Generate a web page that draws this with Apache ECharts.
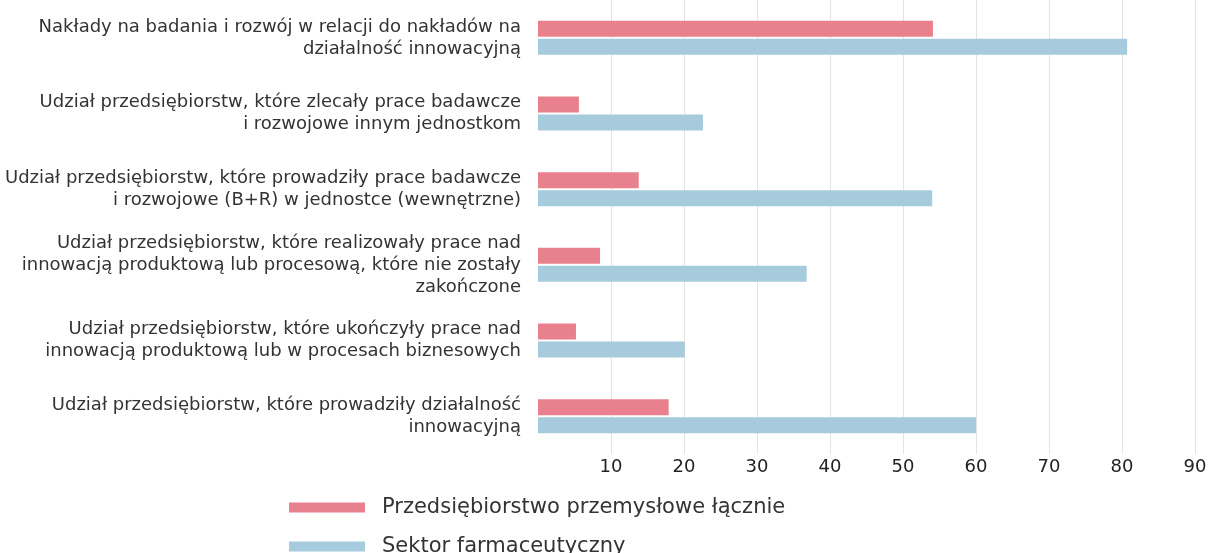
<!DOCTYPE html>
<html>
<head>
<meta charset="utf-8">
<script src="https://cdn.jsdelivr.net/npm/echarts@6/dist/echarts.min.js"></script>
<style>
  html, body { margin: 0; padding: 0; background: #fff; }
  #chart { width: 1211px; height: 553px; }
</style>
</head>
<body>
<div id="chart"></div>
<script>
// kategorie (od góry do dołu)
var categories = [
    'Nakłady na badania i rozwój w relacji do nakładów na\ndziałalność innowacyjną',
    'Udział przedsiębiorstw, które zlecały prace badawcze\ni rozwojowe innym jednostkom',
    'Udział przedsiębiorstw, które prowadziły prace badawcze\ni rozwojowe (B+R) w jednostce (wewnętrzne)',
    'Udział przedsiębiorstw, które realizowały prace nad\ninnowacją produktową lub procesową, które nie zostały\nzakończone',
    'Udział przedsiębiorstw, które ukończyły prace nad\ninnowacją produktową lub w procesach biznesowych',
    'Udział przedsiębiorstw, które prowadziły działalność\ninnowacyjną'
];
var seriesNames = ['Przedsiębiorstwo przemysłowe łącznie', 'Sektor farmaceutyczny'];
var przemysl = [54.1, 5.6, 13.8, 8.5, 5.2, 17.9];
var farmacja = [80.7, 22.6, 54.0, 36.8, 20.1, 60.0];
var xTicks = [0, 10, 20, 30, 40, 50, 60, 70, 80, 90];

(function () {
    var myChart = echarts.init(document.getElementById('chart'));
    var font = 'DejaVu Sans';

    var legendText = {
        fontFamily: font,
        fontSize: 21,
        color: '#333',
        padding: [0, 0, 0, 12]
    };

    var option = {
        animation: false,
        color: ['#E9808E', '#A6CBDD'],
        grid: {
            left: 538,
            right: 16,
            top: 0,
            bottom: 99
        },
        // dwie legendy jedna pod drugą
        legend: [
            {
                left: 284,
                top: 492,
                itemWidth: 76,
                itemHeight: 10,
                icon: 'rect',
                data: [seriesNames[0]],
                textStyle: legendText
            },
            {
                left: 284,
                top: 531,
                itemWidth: 76,
                itemHeight: 10,
                icon: 'rect',
                data: [seriesNames[1]],
                textStyle: legendText
            }
        ],
        xAxis: {
            type: 'value',
            min: xTicks[0],
            max: xTicks[xTicks.length - 1],
            interval: 10,
            axisLine: { show: false },
            axisTick: { show: false },
            axisLabel: {
                showMinLabel: false,
                margin: 4,
                fontFamily: font,
                fontSize: 18,
                color: '#222'
            },
            splitLine: {
                show: true,
                showMinLine: false,
                lineStyle: { color: '#e3e3e3', width: 1 }
            }
        },
        yAxis: {
            type: 'category',
            inverse: true,
            data: categories,
            axisLine: { show: false },
            axisTick: { show: false },
            axisLabel: {
                margin: 17,
                fontFamily: font,
                fontSize: 18,
                lineHeight: 22,
                color: '#333',
                align: 'right'
            }
        },
        series: [
            {
                name: seriesNames[0],
                type: 'bar',
                barWidth: 16,
                barGap: '12%',
                data: przemysl
            },
            {
                name: seriesNames[1],
                type: 'bar',
                barWidth: 16,
                data: farmacja
            }
        ]
    };

    myChart.setOption(option);
})();
</script>
</body>
</html>
